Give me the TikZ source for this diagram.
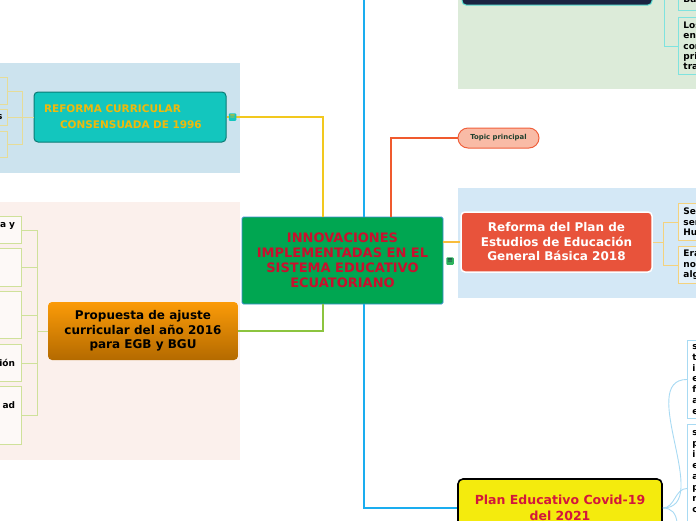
\documentclass[tikz,border=0pt]{standalone}
\usepackage{fontspec}
\setmainfont{DejaVu Sans}
\usetikzlibrary{arrows.meta,calc,positioning}

\definecolor{bgAzulIzq}{HTML}{CCE3EE}
\definecolor{bgRosa}{HTML}{FBF0EC}
\definecolor{bgVerde}{HTML}{DCEBD9}
\definecolor{bgAzulDer}{HTML}{D4E8F6}
\definecolor{raizVerde}{HTML}{00A651}
\definecolor{raizBorde}{HTML}{3D8FD1}
\definecolor{raizTexto}{HTML}{C8102E}
\definecolor{tealFondo}{HTML}{13C6BE}
\definecolor{tealBorde}{HTML}{0B7B75}
\definecolor{tealTexto}{HTML}{F0B90B}
\definecolor{propArriba}{HTML}{FB9B08}
\definecolor{propAbajo}{HTML}{B46A00}
\definecolor{refFondo}{HTML}{E8533B}
\definecolor{topFondo}{HTML}{F9BBA6}
\definecolor{topBorde}{HTML}{F0603C}
\definecolor{topTexto}{HTML}{20402E}
\definecolor{covidFondo}{HTML}{F4EB0D}
\definecolor{covidTexto}{HTML}{D2173C}
\definecolor{marinoFondo}{HTML}{1B2342}
\definecolor{marinoBorde}{HTML}{5FE3D6}
\definecolor{lineaAmarilla}{HTML}{F2C81E}
\definecolor{lineaNaranja}{HTML}{F8BD3C}
\definecolor{lineaVerde}{HTML}{8CC43F}
\definecolor{lineaCian}{HTML}{1AADEF}
\definecolor{lineaRoja}{HTML}{F05A2E}
\definecolor{ramaAmarilla}{HTML}{E6DC98}
\definecolor{ramaVerde}{HTML}{CFE19A}
\definecolor{ramaNaranja}{HTML}{F4D27E}
\definecolor{ramaCian}{HTML}{7FE3DF}
\definecolor{ramaAzul}{HTML}{A8DAF3}
\definecolor{notaVerde}{HTML}{2DB35D}

\tikzset{
    mytopic/.style={rounded corners=4pt,inner sep=0pt,align=center,font=\bfseries\fontsize{12}{14.5}\selectfont},
    myleaf/.style={draw=#1,line width=0.9pt,inner xsep=5pt,inner ysep=0pt,text width=50pt,font=\bfseries\fontsize{9}{10.3}\selectfont},
    mybranch/.style={line width=1.3pt,draw=#1},
    mytwig/.style={line width=0.9pt,draw=#1},
    mynote/.style={fill=#1,minimum size=7.5pt,inner sep=0pt,rounded corners=1pt,font=\fontsize{7}{7}\selectfont},
    every node/.style={font=\small}
}

\begin{document}
\begin{tikzpicture}[x=1pt,y=-1pt]
  \useasboundingbox (0,0) rectangle (696,520);
  \clip (0,0) rectangle (696,520);

  % fondos
  \fill[bgAzulIzq] (0,63) rectangle (240,173);
  \fill[bgRosa] (0,202) rectangle (240,460);
  \fill[bgVerde] (458,-10) rectangle (696,89);
  \fill[bgAzulDer] (458,188) rectangle (696,298);

  % temas
  \node[mytopic,rounded corners=1.5pt,fill=raizVerde,draw=raizBorde,line width=0.8pt,
        minimum width=201pt,minimum height=87pt,text=raizTexto,
        font=\bfseries\fontsize{13}{15}\selectfont]
        (raiz) at (342.5,260.5) {INNOVACIONES\\IMPLEMENTADAS EN EL\\SISTEMA EDUCATIVO\\ECUATORIANO};
  \node[mytopic,fill=tealFondo,draw=tealBorde,line width=1pt,minimum width=192pt,minimum height=50pt,
        text width=172pt,align=left,text=tealTexto,font=\bfseries\fontsize{10.5}{16}\selectfont]
        (reforma96) at (130,117) {REFORMA CURRICULAR\\\hspace*{16pt}CONSENSUADA DE 1996};
  \node[mytopic,top color=propArriba,bottom color=propAbajo,minimum width=190pt,minimum height=58pt]
        (propuesta) at (143,331) {Propuesta de ajuste\\curricular del año 2016\\para EGB y BGU};
  \node[mytopic,fill=refFondo,draw=white,line width=1.5pt,minimum width=191pt,minimum height=60pt,text=white]
        (reforma18) at (556.5,242) {Reforma del Plan de\\Estudios de Educación\\General Básica 2018};
  \node[mytopic,rounded corners=10pt,fill=topFondo,draw=topBorde,line width=1pt,minimum width=81pt,
        minimum height=20pt,text=topTexto,font=\bfseries\fontsize{6.9}{8}\selectfont]
        (topico) at (498.5,138) {Topic principal};
  \node[mytopic,rounded corners=5pt,fill=covidFondo,draw=black,line width=1.6pt,minimum width=204pt,
        minimum height=58pt,text=covidTexto,font=\bfseries\fontsize{12.5}{15.5}\selectfont]
        (covid) at (560,508) {\raisebox{-2pt}{Plan Educativo Covid-19}\\\raisebox{-2pt}{del 2021}};
  \node[mytopic,fill=marinoFondo,draw=marinoBorde,line width=1pt,minimum width=190pt,minimum height=45pt]
        (marino) at (557,-17.5) {};

  % hojas
  \foreach \n/\t/\h/\txt in {tl1/77/27/{},tl2/109/16/{s},tl3/131/26/{}}{
    \node[myleaf=ramaAmarilla,fill=bgAzulIzq,align=right,anchor=north east,minimum height=\h]
      (\n) at (8,\t) {\txt};
  }
  \foreach \n/\t/\h/\txt in {pl1/216/27/{ca y\\\mbox{}},pl2/248/38/{},pl3/291/47/{},
                             pl4/344/37/{ión},pl5/386/58/{ad\\\mbox{}\\\mbox{}}}{
    \node[myleaf=ramaVerde,fill=white!60!bgRosa,align=right,anchor=north east,minimum height=\h,inner xsep=6.5pt]
      (\n) at (22,\t) {\txt};
  }
  \foreach \n/\t/\h/\txt in {rl1/203/37/{Se\\sen\\Hu},rl2/246/37/{Era\\no\\alg}}{
    \node[myleaf=ramaNaranja,fill=white!35!bgAzulDer,align=left,anchor=north west,minimum height=\h]
      (\n) at (678,\t) {\txt};
  }
  \node[myleaf=ramaCian,fill=bgVerde,align=left,anchor=south west,minimum height=36pt]
    (tr1) at (678,11) {\mbox{}\\\mbox{}\\Bá};
  \node[myleaf=ramaCian,fill=bgVerde,align=left,anchor=north west,minimum height=57pt]
    (tr2) at (678,17) {Los\\en\\con\\pri\\tra};
  \node[myleaf=ramaAzul,fill=white,align=left,anchor=north west,minimum height=78pt,
        font=\bfseries\fontsize{9}{10.7}\selectfont]
    (cl1) at (687,340) {s\\t\\i\\e\\f\\a\\e};
  \node[myleaf=ramaAzul,fill=white,align=left,anchor=north west,minimum height=128pt,
        font=\bfseries\fontsize{9}{11}\selectfont]
    (cl2) at (687,424) {s\\p\\i\\e\\a\\p\\r\\c\\\mbox{}\\\mbox{}\\\mbox{}};
  \coordinate (cl3) at (687,600);

  % ramas principales
  \coordinate (xAmarillo) at (323,0);
  \coordinate (xCian) at (364,0);
  \coordinate (xRojo) at (391,0);
  \draw[mybranch=lineaAmarilla] (reforma96.east) -| (raiz.north -| xAmarillo);
  \draw[mybranch=lineaVerde] (propuesta.east) -| (raiz.south -| xAmarillo);
  \draw[mybranch=lineaCian] (raiz.north -| xCian) |- (marino.west);
  \draw[mybranch=lineaCian] (raiz.south -| xCian) |- (covid.west);
  \draw[mybranch=lineaRoja] (raiz.north -| xRojo) |- (topico.west);
  \draw[mybranch=lineaNaranja] (reforma18.west -| raiz.east) -- (reforma18.west);

  % ramas de las hojas
  \foreach \n in {tl1,tl2,tl3}{\draw[mytwig=ramaAmarilla] (reforma96.west) -- ++(-11,0) |- (\n.east);}
  \foreach \n in {pl1,pl2,pl3,pl4,pl5}{\draw[mytwig=ramaVerde] (propuesta.west) -- ++(-10,0) |- (\n.east);}
  \foreach \n in {rl1,rl2}{\draw[mytwig=ramaNaranja] (reforma18.east) -- ++(11,0) |- (\n.west);}
  \foreach \n in {tr1,tr2}{\draw[mytwig=ramaCian] (marino.east) -- ++(12,0) |- (\n.west);}
  \foreach \n in {cl1,cl2}{\draw[mytwig=ramaAzul] (covid.east) to[out=0,in=180] (\n.west);}
  \draw[mytwig=ramaAzul] (covid.east) to[out=0,in=180] (cl3);

  % notas
  \node[mynote=notaVerde,text=marinoFondo] (notaRaiz) at (450,261) {≡};
  \node[mynote=tealFondo,text=tealTexto] (notaTeal) at (232.5,117) {≡};
\end{tikzpicture}
\end{document}
